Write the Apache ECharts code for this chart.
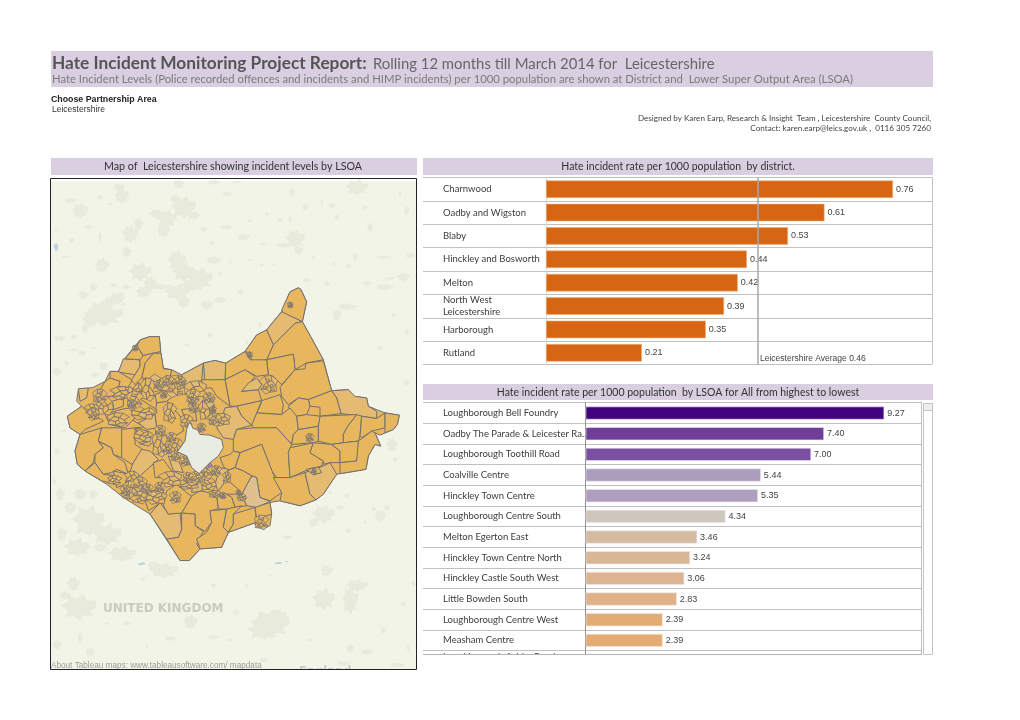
<!DOCTYPE html>
<html><head><meta charset="utf-8"><title>Hate Incident Monitoring Project Report</title>
<style>html,body{margin:0;padding:0;background:#fff}#c{width:1020px;height:720px}</style>
<script src="https://cdn.jsdelivr.net/npm/echarts@6/dist/echarts.min.js"></script></head>
<body><div id="c"></div>
<script>
const districtNames=['Charnwood','Oadby and Wigston','Blaby','Hinckley and Bosworth','Melton','North West\nLeicestershire','Harborough','Rutland'];
const districtRates=[0.76,0.61,0.53,0.44,0.42,0.39,0.35,0.21];
const averageRate=0.464;
const lsoaNames=['Loughborough Bell Foundry','Oadby The Parade & Leicester Ra..','Loughborough Toothill Road','Coalville Centre','Hinckley Town Centre','Loughborough Centre South','Melton Egerton East','Hinckley Town Centre North','Hinckley Castle South West','Little Bowden South','Loughborough Centre West','Measham Centre','Loughborough Ashby Road'];
const lsoaRates=[9.27,7.40,7.00,5.44,5.35,4.34,3.46,3.24,3.06,2.83,2.39,2.39,2.31];
const lsoaColors=['#42047e','#6f3e98','#7a50a3','#ac9cbd','#af9fbe','#cfc6bd','#d5bba0','#d9b795','#dcb48f','#dfb287','#e3ac74','#e3ac74','#e4ab6e'];

const FILL={base:'#e8b65c',light:'#e5bb72',tan:'#dfc08f',land:'#f3f4e8',urban:'#e8ebdb',water:'#bcd3de',hole:'#e9ece0',purple:'#b47fd0',grey:'#9d93b0'};
const frameRing=[[-27,-303],[1068,-303],[1068,1167],[-27,1167]];
const countyOutline=[[690,30],[715,18],[722,22],[740,60],[727,120],[752,165],[790,235],[815,328],[865,325],[880,345],[920,350],[925,375],[950,385],[975,395],[1018,402],[1012,430],[1000,445],[960,462],[945,455],[962,495],[945,490],[925,525],[918,565],[890,570],[830,580],[790,640],[768,657],[720,675],[660,660],[630,665],[635,700],[630,735],[610,745],[580,728],[505,755],[485,800],[420,805],[388,840],[360,840],[270,700],[190,650],[140,610],[75,570],[52,550],[45,510],[60,460],[30,440],[22,405],[65,375],[50,360],[55,325],[100,318],[135,300],[150,270],[175,270],[195,230],[240,175],[270,165],[298,165],[302,210],[310,260],[335,265],[365,280],[430,245],[465,237],[497,245],[555,210],[590,160],[620,145],[640,120],[665,90]];
const cityHole=[[387,425],[393,428],[399,442],[412,445],[420,460],[450,462],[485,475],[490,500],[475,525],[450,545],[417,578],[395,560],[380,525],[352,512],[375,480],[380,445]];
const lsoaShapes=[
['base',[[690,30],[715,18],[722,22],[740,60],[727,120],[670,95],[665,85]]],
['light',[[620,145],[665,90],[727,120],[705,125],[640,190]]],
['base',[[640,190],[705,125],[727,120],[752,165],[790,235],[738,245],[705,265],[700,218],[620,235]]],
['base',[[555,210],[590,160],[620,145],[640,190],[620,235],[575,240],[570,215]]],
['base',[[620,235],[700,218],[705,265],[665,310],[640,285],[625,280]]],
['base',[[705,265],[735,262],[738,245],[790,238],[815,328],[745,355],[715,350],[685,370],[665,345],[660,318]]],
['base',[[497,245],[555,210],[570,235],[620,235],[625,280],[590,285],[555,265],[495,295]]],
['base',[[495,295],[555,265],[585,285],[565,310],[545,330],[595,325],[605,358],[530,375],[510,375]]],
['light',[[565,305],[590,290],[605,310],[595,325],[545,330]]],
['light',[[815,328],[865,325],[885,345],[920,350],[925,375],[950,390],[950,412],[905,405],[843,397],[830,350]]],
['base',[[745,355],[815,328],[830,350],[843,397],[780,405],[780,378],[750,375]]],
['base',[[685,375],[715,350],[745,355],[750,375],[740,400],[710,405],[690,390]]],
['base',[[605,358],[660,340],[670,370],[665,400],[590,395],[600,375]]],
['base',[[590,395],[665,400],[690,380],[710,405],[715,445],[700,460],[695,490],[650,440],[580,440],[575,430]]],
['base',[[530,375],[605,358],[590,395],[575,432],[545,405]]],
['light',[[495,380],[530,375],[545,405],[575,432],[530,445],[520,475],[490,470],[470,440],[490,395]]],
['base',[[520,475],[530,445],[580,440],[650,440],[695,490],[685,515],[690,590],[650,590],[635,570],[605,490],[540,515],[520,510]]],
['base',[[540,515],[605,490],[640,580],[665,635],[630,660],[600,650],[590,590],[575,585],[550,570],[525,560]]],
['tan',[[575,585],[590,590],[600,650],[630,662],[590,680],[560,675],[545,640]]],
['base',[[650,590],[690,590],[735,575],[750,640],[768,657],[720,675],[660,660],[665,635],[640,590]]],
['light',[[735,575],[790,555],[810,545],[830,580],[790,640],[768,657],[750,640]]],
['base',[[690,500],[760,485],[750,515],[790,540],[785,555],[735,570],[690,590],[685,515]]],
['base',[[760,485],[815,490],[840,510],[840,545],[810,545],[790,550],[790,540],[750,515]]],
['base',[[715,445],[775,435],[775,480],[760,485],[695,490],[700,460]]],
['base',[[780,405],[890,400],[860,440],[850,460],[850,485],[815,490],[775,480],[775,430]]],
['base',[[890,400],[905,405],[900,465],[895,480],[850,485],[850,460],[860,440]]],
['base',[[905,405],[950,412],[975,395],[975,440],[935,450],[905,470],[900,465]]],
['base',[[975,395],[1018,402],[1012,430],[1000,445],[975,455]]],
['base',[[815,490],[850,485],[895,480],[895,510],[890,540],[840,545],[840,510]]],
['base',[[895,480],[935,450],[945,455],[962,495],[945,490],[925,525],[918,565],[890,570],[840,578],[840,545],[890,540]]],
['base',[[710,405],[740,400],[780,405],[775,435],[715,445]]],
['base',[[740,565],[775,558],[785,575],[760,582]]],
['base',[[520,510],[540,515],[525,560],[500,570],[490,555],[480,530],[510,520]]],
['base',[[525,560],[550,570],[575,585],[545,640],[535,625],[505,600],[500,570]]],
['base',[[500,640],[545,640],[560,675],[525,680],[515,650]]],
['light',[[480,560],[505,565],[490,610],[475,630],[465,610]]],
['base',[[395,645],[420,630],[470,640],[475,685],[450,690],[455,725],[435,752],[405,735],[405,700],[365,697]]],
['base',[[365,697],[405,700],[405,735],[430,752],[410,790],[420,805],[388,840],[360,840],[320,775],[355,770],[365,745]]],
['base',[[450,690],[500,685],[490,740],[505,755],[485,800],[420,805],[410,775],[440,755],[455,725]]],
['base',[[470,640],[500,640],[515,650],[525,680],[500,685],[475,685]]],
['base',[[500,685],[545,675],[520,700],[520,730],[505,755],[490,740]]],
['base',[[520,700],[585,680],[590,725],[580,728],[505,755],[520,730]]],
['light',[[270,700],[300,665],[325,700],[360,695],[365,745],[355,770],[320,775]]],
['base',[[585,680],[630,665],[635,700],[590,715]]],
['base',[[22,405],[65,375],[90,400],[125,415],[130,420],[75,445],[60,460],[30,440]]],
['base',[[60,460],[125,440],[115,480],[130,500],[105,520],[100,545],[75,570],[52,550],[45,510]]],
['base',[[75,570],[105,545],[130,580],[165,585],[145,605],[125,600]]],
['base',[[115,480],[155,500],[160,520],[195,545],[205,580],[170,565],[155,575],[130,580],[105,545],[105,520],[130,500]]],
['base',[[125,440],[185,440],[190,500],[185,530],[160,520],[155,500],[115,480]]],
['base',[[185,445],[225,440],[225,490],[255,510],[240,530],[215,550],[185,530]]],
['light',[[245,505],[270,510],[295,535],[240,585],[205,585],[220,545]]],
['base',[[225,440],[285,435],[290,475],[265,495],[245,490]]],
['base',[[290,365],[320,360],[365,410],[370,450],[325,475],[290,440],[285,400]]],
['base',[[235,350],[290,385],[290,395],[240,430],[215,415],[205,385]]],
['light',[[235,425],[285,400],[290,440],[260,445]]],
['base',[[140,365],[190,350],[190,375],[160,385],[160,370]]],
['base',[[180,385],[210,380],[225,410],[195,440],[150,430],[135,400]]],
['base',[[240,175],[270,165],[298,165],[302,210],[280,215],[250,222],[230,195]]],
['light',[[190,232],[240,235],[240,255],[225,280],[175,272]]],
['base',[[195,232],[230,190],[250,225],[240,235]]],
['base',[[280,215],[303,215],[310,262],[335,265],[330,290],[310,295],[245,290],[255,245]]],
['base',[[250,222],[280,215],[255,245],[245,290],[215,320],[215,295],[225,280],[240,255],[240,235]]],
['base',[[150,270],[175,270],[215,295],[210,320],[175,315],[180,300],[150,290]]],
['base',[[135,300],[150,290],[180,300],[175,320],[160,345],[135,345],[115,335]]],
['light',[[175,315],[215,320],[215,340],[185,355],[160,345]]],
['light',[[55,322],[85,320],[80,350],[60,360]]],
['light',[[365,280],[430,245],[425,295],[405,315],[375,310]]],
['light',[[430,245],[465,237],[497,245],[495,295],[435,300]]],
['base',[[425,295],[495,295],[510,375],[470,345],[455,320],[430,320]]],
['light',[[430,345],[450,335],[465,350],[455,370],[435,370]]],
['light',[[250,295],[285,295],[280,330],[255,345]]],
['base',[[285,340],[330,320],[340,345],[320,360],[290,365]]],
['base',[[365,385],[405,380],[410,420],[375,415]]],
['base',[[230,440],[262,450],[270,480],[240,490]]],
['base',[[280,545],[310,535],[335,570],[325,590],[285,590]]],
['light',[[325,525],[355,535],[370,575],[340,570]]],
['base',[[160,570],[205,580],[195,610],[170,620]]],
['base',[[250,640],[305,620],[320,660],[295,670],[265,690]]],
['base',[[320,630],[350,610],[385,640],[395,645],[365,697],[325,700],[310,675]]],
['light',[[400,600],[430,605],[425,630],[395,635]]]
];
const accentShapes=[['purple',[[444,552],[452,546],[456,556],[447,560]]],['grey',[[208,366],[214,362],[216,374],[210,378]]]];
const meshCells=[[[-1,-.4],[-.4,-.9],[-.1,-.3],[-.5,.1]],[[-.4,-.9],[.3,-1],[.4,-.4],[-.1,-.3]],[[.3,-1],[1,-.5],[.8,.1],[.4,-.4]],[[-.1,-.3],[.4,-.4],[.8,.1],[.3,.3],[0,.1]],[[-.5,.1],[-.1,-.3],[0,.1],[-.2,.5],[-.8,.5]],[[0,.1],[.3,.3],[.2,.8],[-.2,.5]],[[.3,.3],[.8,.1],[.9,.7],[.2,.8]],[[-.8,.5],[-.2,.5],[.2,.8],[-.3,1]],[[-.3,-.6],[.1,-.6],[.1,-.4],[-.2,-.35]],[[.2,0],[.5,0],[.5,.25],[.25,.25]],[[-.5,.2],[-.2,.2],[-.2,.4],[-.55,.4]],[[.35,.45],[.65,.45],[.65,.65],[.35,.65]]];
const wideClusters=[[300,305,34,1.2,.8],[265,325,30,.8,1.2],[185,335,28,1.3,.7],[135,375,28,.9,1],[95,385,22,1,.8],[175,415,26,1.3,.8],[250,395,30,1.2,.7],[330,395,26,.8,1.2],[405,325,30,1.2,.9],[440,385,28,.9,1.2],[485,415,24,1.1,.8],[300,490,30,.8,1.3],[250,465,24,1.2,.8],[350,495,26,.8,.9],[385,610,26,1.3,.6],[445,610,24,1,.8],[330,595,30,1.2,.8],[240,650,24,1,.8],[290,650,26,1.2,.8],[165,598,18,1.2,.8],[215,590,22,1,.9],[545,650,14,1,.8],[500,590,16,.8,1.1],[465,640,16,1.2,.7],[225,325,24,.9,1.1],[380,420,20,1,1]];
const townClusters=[[345,315,34],[325,300,18],[360,300,16],[225,355,26],[215,370,14],[120,345,22],[100,400,18],[400,345,22],[400,380,16],[465,415,20],[445,350,16],[425,440,14],[300,450,18],[335,470,16],[320,505,16],[350,525,18],[375,540,16],[215,630,30],[240,610,22],[265,625,16],[195,630,16],[440,570,24],[410,590,20],[385,590,16],[345,650,18],[300,620,16],[625,310,28],[605,725,22],[760,570,10],[750,470,13],[690,70,9],[570,220,9],[225,200,9],[460,385,10],[535,635,8],[490,645,10],[395,360,12],[295,310,14],[310,340,12],[470,570,16]];
const blobTemplate=[[1,.05],[.62,.3],[.8,.7],[.3,.62],[.1,1],[-.3,.65],[-.7,.78],[-.62,.22],[-1,-.1],[-.6,-.4],[-.55,-.85],[-.12,-.62],[.3,-1],[.45,-.45],[.92,-.5]];
const urbanTop=[[400,90,38,35],[430,115,20,15],[375,65,15,15],[350,125,30,30],[320,110,25,15],[340,160,20,25],[240,170,25,30],[265,140,15,20],[215,55,22,25],[205,30,18,15],[90,100,25,25],[60,70,18,10],[155,265,22,25],[230,225,15,18],[270,285,35,30],[380,250,28,35],[400,285,35,30],[450,305,40,35],[425,325,35,20],[300,320,20,25],[490,250,25,12],[580,180,20,12],[460,155,12,10],[530,150,20,8],[530,50,15,8],[735,185,30,30],[745,220,15,15],[700,205,25,8],[920,30,35,25],[1060,300,20,15],[1080,235,15,10],[1000,240,22,6],[950,320,15,8],[385,20,18,15],[490,15,20,8],[560,15,15,5],[725,45,8,15],[765,90,10,12],[845,85,12,8],[485,198,8,8],[650,110,8,6],[690,130,8,8],[720,125,6,8],[860,120,8,10],[960,150,10,15],[1050,50,6,8],[1070,100,8,15],[945,90,8,8],[815,75,5,10],[20,160,8,5],[65,190,10,10],[150,180,6,20],[115,150,12,8],[180,80,8,5],[150,60,10,8],[45,240,12,6],[635,265,8,6],[670,265,8,5],[640,200,12,6],[600,250,8,5],[510,290,6,5],[540,255,6,6],[130,330,12,15],[190,325,12,8],[600,130,8,6],[915,240,8,15],[895,268,10,8],[1020,305,15,5],[830,320,10,8],[790,240,6,6],[770,310,12,8],[850,260,6,6]];
const urbanBottom=[[85,140,55,40],[70,70,20,25],[45,105,18,15],[340,30,45,25],[310,15,20,15],[660,190,60,45],[640,210,50,30],[680,165,30,20],[820,115,35,35],[900,120,25,45],[920,75,35,20],[830,30,20,20],[420,185,22,25],[557,157,12,10],[90,235,8,20],[230,190,12,8],[490,75,8,8],[590,75,8,6],[660,45,5,5],[1060,130,8,8],[1075,265,6,10],[950,275,20,10],[900,265,12,15],[1040,320,25,8],[1000,210,8,12],[20,255,15,15],[120,275,15,15],[360,235,20,8],[490,230,18,8],[640,300,15,8],[540,240,8,5],[780,240,8,5],[880,310,20,8],[1090,70,6,10],[290,255,5,8],[170,190,8,5],[280,55,8,8]];
const urbanWest=[[100,40,15,12],[150,90,40,35],[120,115,25,25],[180,60,20,20],[215,40,8,12],[220,68,8,5],[35,170,12,10],[70,205,15,5],[20,170,8,8],[160,250,15,10],[135,280,15,8],[95,215,12,10],[20,270,15,15],[70,165,10,10],[105,140,12,15],[230,15,15,8],[30,640,15,25],[60,680,20,20],[115,720,50,50],[170,760,45,35],[215,820,45,25],[90,640,20,20],[130,640,15,15],[20,510,8,10],[40,450,8,5],[12,600,6,15],[80,800,40,30],[35,760,15,25],[150,800,20,15]];
const urbanNorth=[[70,40,15,15],[130,100,60,35],[170,50,25,20],[250,30,25,20],[300,15,30,10],[350,30,40,25],[440,70,20,15],[370,60,20,20],[480,55,20,10],[540,30,10,10],[860,75,30,12],[830,100,15,20],[975,15,30,10],[1040,305,10,10],[380,190,8,6],[450,160,10,8],[560,180,6,8],[600,130,6,8],[100,200,8,5],[130,260,15,8],[20,245,8,8],[920,5,15,6],[960,200,8,8],[1000,100,8,8],[1040,150,8,10],[995,490,18,25],[1005,535,8,8],[790,700,35,30],[760,725,15,15],[840,680,15,8],[960,705,18,20],[980,680,10,10],[940,685,8,8],[865,750,10,8],[915,725,6,6],[680,770,15,8],[860,645,8,8],[810,635,5,6]];
const waterSpots=[[-12,-105,7,14],[245,850,12,5],[655,848,12,4],[680,843,6,3]];

function ringFromBlob(b){const r=blobTemplate.map(t=>[b[0]+t[0]*b[2],b[1]+t[1]*b[3]]);r.push(r[0]);return r;}
const features=[],mapData=[];
function addRegion(name,ring,fill,width,val){
  const r=ring.slice();if(r[0]!==r[r.length-1])r.push(r[0]);
  features.push({type:'Feature',properties:{name},geometry:{type:'Polygon',coordinates:[r]}});
  mapData.push({name,value:val,itemStyle:{areaColor:fill,color:fill,borderColor:width?'#707075':fill,borderWidth:width}});
}
addRegion('Land',frameRing,FILL.land,0,0);
urbanTop.forEach((b,i)=>addRegion('UrbanT'+i,ringFromBlob([b[0]-30,b[1]-315,b[2],b[3]]),FILL.urban,0,0));
urbanBottom.forEach((b,i)=>addRegion('UrbanB'+i,ringFromBlob([b[0]-30,Math.min(b[1]+840,1155),b[2],b[3]]),FILL.urban,0,0));
urbanWest.forEach((b,i)=>addRegion('UrbanW'+i,ringFromBlob([b[0]-30,b[1],b[2],b[3]]),FILL.urban,0,0));
urbanNorth.forEach((b,i)=>addRegion('UrbanN'+i,ringFromBlob(b),FILL.urban,0,0));
waterSpots.forEach((b,i)=>addRegion('Water'+i,ringFromBlob(b),FILL.water,0,0));
addRegion('Leicestershire',countyOutline,FILL.base,1,1);
lsoaShapes.forEach((s,i)=>addRegion('LSOA'+i,s[1],FILL[s[0]],1,1));
wideClusters.forEach((c,i)=>meshCells.slice(0,8).forEach((m,j)=>{
  const flip=i%2?-1:1, swap=i%3===0;
  addRegion('Mid'+i+'_'+j,m.map(p=>swap?[c[0]+p[1]*c[2]*c[3]*flip,c[1]+p[0]*c[2]*c[4]]:[c[0]+p[0]*c[2]*c[3]*flip,c[1]+p[1]*c[2]*c[4]]),(i+j)%9===0?FILL.light:FILL.base,0.8,1);
}));
townClusters.forEach((c,i)=>meshCells.forEach((m,j)=>addRegion('Town'+i+'_'+j,m.map(p=>[c[0]+p[0]*c[2]*(i%2?-1:1),c[1]+p[1]*c[2]]),(i+j)%7===0?FILL.light:FILL.base,0.7,1)));
addRegion('Leicester City',cityHole,FILL.hole,1,0);
accentShapes.forEach((s,i)=>addRegion('Accent'+i,s[1],FILL[s[0]],0.7,1));
echarts.registerMap('leicestershire',{type:'FeatureCollection',features});

const F='Lato',A='"Liberation Sans"';
const txt=(x,y,text,font,fill,o)=>({type:'text',x,y,z:5,silent:true,style:Object.assign({text,font,fill,textVerticalAlign:'middle'},o||{})});
const band=(x,y,w,h)=>({type:'rect',silent:true,z:1,shape:{x,y,width:w,height:h},style:{fill:'#d9cfe0'}});
const hline=(x1,x2,y,c,z)=>({type:'line',silent:true,z:z||6,shape:{x1,y1:y,x2,y2:y},style:{stroke:c||'#bdbdbd',lineWidth:1}});
const vline=(x,y1,y2,c,z)=>({type:'line',silent:true,z:z||6,shape:{x1:x,y1,x2:x,y2},style:{stroke:c||'#bdbdbd',lineWidth:1}});
const graphic=[
 band(51,51,882,36),band(51,158,366,17),band(423,158,510,17),band(423,384,510,16),
 txt(52,63.5,'Hate Incident Monitoring Project Report:','bold 17.3px '+F,'#555557'),
 txt(373,64,'Rolling 12 months till March 2014 for  Leicestershire','14.9px '+F,'#666668'),
 txt(52,79.5,'Hate Incident Levels (Police recorded offences and incidents and HIMP incidents) per 1000 population are shown at District and  Lower Super Output Area (LSOA)','11.3px '+F,'#7a7a7c'),
 txt(51,100,'Choose Partnership Area','bold 8.8px '+A,'#222'),
 txt(52,110,'Leicestershire','8.5px '+A,'#333'),
 txt(931,118,'Designed by Karen Earp, Research & Insight  Team , Leicestershire  County Council,','8.1px '+F,'#444',{textAlign:'right'}),
 txt(931,128,'Contact: karen.earp@leics.gov.uk ,  0116 305 7260','8.1px '+F,'#444',{textAlign:'right'}),
 txt(233,167,'Map of  Leicestershire showing incident levels by LSOA','10.7px '+F,'#333',{textAlign:'center'}),
 txt(678,167,'Hate incident rate per 1000 population  by district.','10.5px '+F,'#333',{textAlign:'center'}),
 txt(678,393,'Hate incident rate per 1000 population  by LSOA for All from highest to lowest','10.5px '+F,'#333',{textAlign:'center'}),
 txt(103,609,'UNITED KINGDOM','bold 12px "DejaVu Sans"','#c9cac0'),
 txt(299,672,'England','bold 11.5px "DejaVu Sans"','#c9cac0'),
 txt(51,666,'About Tableau maps: www.tableausoftware.com/ mapdata','8.2px '+A,'#9a9a9a'),
 {type:'rect',silent:true,z:7,shape:{x:40,y:670,width:390,height:20},style:{fill:'#fff'}},
 {type:'rect',silent:true,z:8,shape:{x:50.5,y:178.5,width:366,height:491},style:{fill:'none',stroke:'#222',lineWidth:1}},
 vline(932.5,177,364,'#c4c4c4'),
 txt(760,358.5,'Leicestershire Average '+averageRate.toFixed(2),'8.5px '+A,'#444'),
 {type:'rect',silent:true,z:7,shape:{x:423,y:655,width:512,height:22},style:{fill:'#fff'}},
 hline(423,922,654.5,'#b5b5b5',8),
 vline(921.5,403,655,'#bdbdbd',8),
 {type:'rect',silent:true,z:8,shape:{x:923.5,y:403.5,width:9,height:251},style:{fill:'#fff',stroke:'#c4c4c4',lineWidth:1}},
 {type:'rect',silent:true,z:9,shape:{x:923.5,y:403.5,width:9,height:7},style:{fill:'#eee',stroke:'#c4c4c4',lineWidth:1}}
];
const baseY=(names,gi,lh)=>({type:'category',gridIndex:gi,data:names,inverse:true,
  axisTick:{show:false},axisLine:{show:true,onZero:true,lineStyle:{color:gi?'#8e8e8e':'#d8d8d8',width:1}},
  splitLine:{show:true,lineStyle:{color:'#c0c0c0',width:1}},
  axisLabel:{inside:true,margin:20,align:'left',fontFamily:F,fontSize:9.5,color:'#3c3c3c',lineHeight:lh,padding:[2,0,0,0],interval:0}});
const barLabel={show:true,position:'right',distance:3,fontFamily:A,fontSize:9,color:'#444',formatter:p=>Number(p.value).toFixed(2)};
const lsoaCats=lsoaNames.map((n,i)=>i===lsoaNames.length-1?{value:n,textStyle:{verticalAlign:'bottom',lineHeight:8}}:n);
const option={animation:false,backgroundColor:'#fff',graphic,
 grid:[{left:423,top:177.5,width:509,height:187},{left:423,top:402.7,width:499,height:268.7}],
 xAxis:[{type:'value',gridIndex:0,min:-0.2694,max:0.8454,show:false},{type:'value',gridIndex:1,min:-5.053,max:10.444,show:false}],
 yAxis:[baseY(districtNames,0,12),baseY(lsoaCats,1,12)],
 series:[
 {type:'map',map:'leicestershire',left:51,top:179,width:365,height:490,projection:{project:p=>p,unproject:p=>p},roam:false,silent:true,showLegendSymbol:false,selectedMode:false,label:{show:false},emphasis:{disabled:true},data:mapData,z:2},
 {type:'bar',xAxisIndex:0,yAxisIndex:0,data:districtRates,barWidth:17.5,silent:true,z:3,itemStyle:{color:'#d66614',borderColor:'#f0b27a',borderWidth:0.6},label:barLabel,
  markLine:{silent:true,symbol:'none',animation:false,precision:4,label:{show:false},lineStyle:{color:'#a8a8a8',width:1.5,type:'solid'},data:[{xAxis:averageRate}]}},
 {type:'bar',xAxisIndex:1,yAxisIndex:1,data:lsoaRates.map((v,i)=>({value:v,itemStyle:{color:lsoaColors[i]}})),barWidth:13,silent:true,z:3,itemStyle:{borderColor:'#eee8f0',borderWidth:0.6},label:barLabel}
 ]};
const chart=echarts.init(document.getElementById('c'),null,{renderer:'canvas'});
chart.setOption(option);
</script></body></html>
